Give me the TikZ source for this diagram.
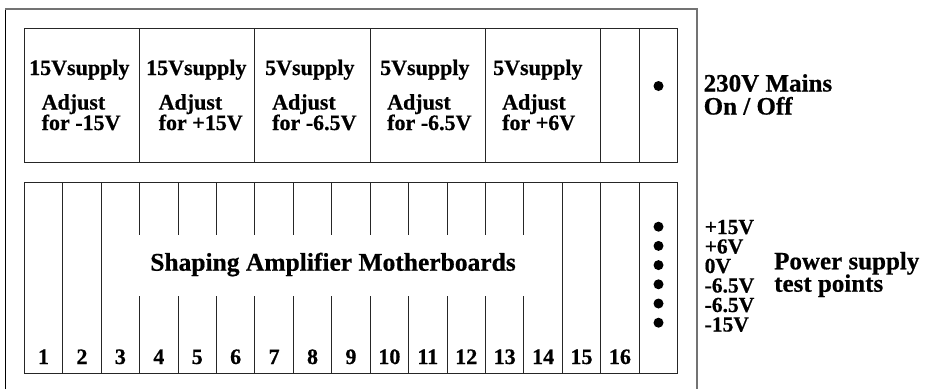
\documentclass[tikz,border=0pt]{standalone}
\usepackage{fontspec}
\setmainfont{Liberation Serif}[BoldFeatures={FakeBold=0.6}]
\begin{document}
\begin{tikzpicture}[x=1pt,y=-1pt,
  frame/.style={draw=black!85, line width=0.9pt},
  outer/.style={draw=black!55, line width=1.6pt},
  txt/.style={inner sep=0pt, anchor=base west, font=\bfseries\fontsize{22}{24}\selectfont},
  num/.style={inner sep=0pt, anchor=base, font=\bfseries\fontsize{22}{23}\selectfont},
  side/.style={inner sep=0pt, anchor=base west, font=\bfseries\fontsize{25}{26}\selectfont},
  volt/.style={inner sep=0pt, anchor=base west, font=\bfseries\fontsize{21.5}{22}\selectfont},
  title/.style={inner sep=0pt, anchor=base, font=\bfseries\fontsize{25.5}{27}\selectfont},
  dot/.style={fill=black, draw=none}]
\useasboundingbox (0,0) rectangle (932,389);
% outer box (open at bottom)
\draw[draw=black, line width=1pt] (5,389) -- (5,9);
\draw[outer] (5,9) -- (697,9) -- (697,389);
% top panel
\def\xo{24.3}\def\w{38.43}
\draw[frame] (\xo,28.3) rectangle (677.7,162.7);
\foreach \k in {3,6,9,12,15,16}
  \draw[frame] ({\xo+\k*\w},28.3) -- ({\xo+\k*\w},162.7);
% supply labels
\foreach \i/\a/\b/\s/\v in {1/29/41.5/15Vsupply/-15V, 2/146/158.5/15Vsupply/+15V, 3/265/272/5Vsupply/-6.5V, 4/380/387/5Vsupply/-6.5V, 5/493/502/5Vsupply/+6V}{
  \node[txt] (s\i) at (\a,75) {\s};
  \node[txt] (a\i) at (\b,109.5) {Adjust};
  \node[txt] (f\i) at (\b,130) {for \v};
}
\fill[dot] (658.5,86) circle (5);
\node[side] (mains) at (703.5,91.5) {230V Mains};
\node[side] (onoff) at (703.5,114.5) {On / Off};
% bottom panel
\draw[frame] (\xo,182.3) rectangle (677.7,373.3);
\foreach \k in {1,2,14,15,16}
  \draw[frame] ({\xo+\k*\w},182.3) -- ({\xo+\k*\w},373.3);
\foreach \k in {3,...,13}{
  \draw[frame] ({\xo+\k*\w},182.3) -- ({\xo+\k*\w},235);
  \draw[frame] ({\xo+\k*\w},296) -- ({\xo+\k*\w},373.3);
}
\foreach \i in {1,...,16}
  \node[num] (n\i) at ({\xo+(\i-0.5)*\w},364) {\i};
\node[title] (sam) at (333,270.7) {Shaping Amplifier Motherboards};
% test points
\foreach \j/\v in {0/+15V,1/+6V,2/0V,3/-6.5V,4/-6.5V,5/-15V}{
  \fill[dot] (658.5,{226.7+\j*19.2}) circle (5);
  \node[volt] (v\j) at (704.5,{234+\j*19.5}) {\v};
}
\node[side] (ps) at (774,269.3) {Power supply};
\node[side] (tp) at (774,291.7) {test points};
\end{tikzpicture}
\end{document}
